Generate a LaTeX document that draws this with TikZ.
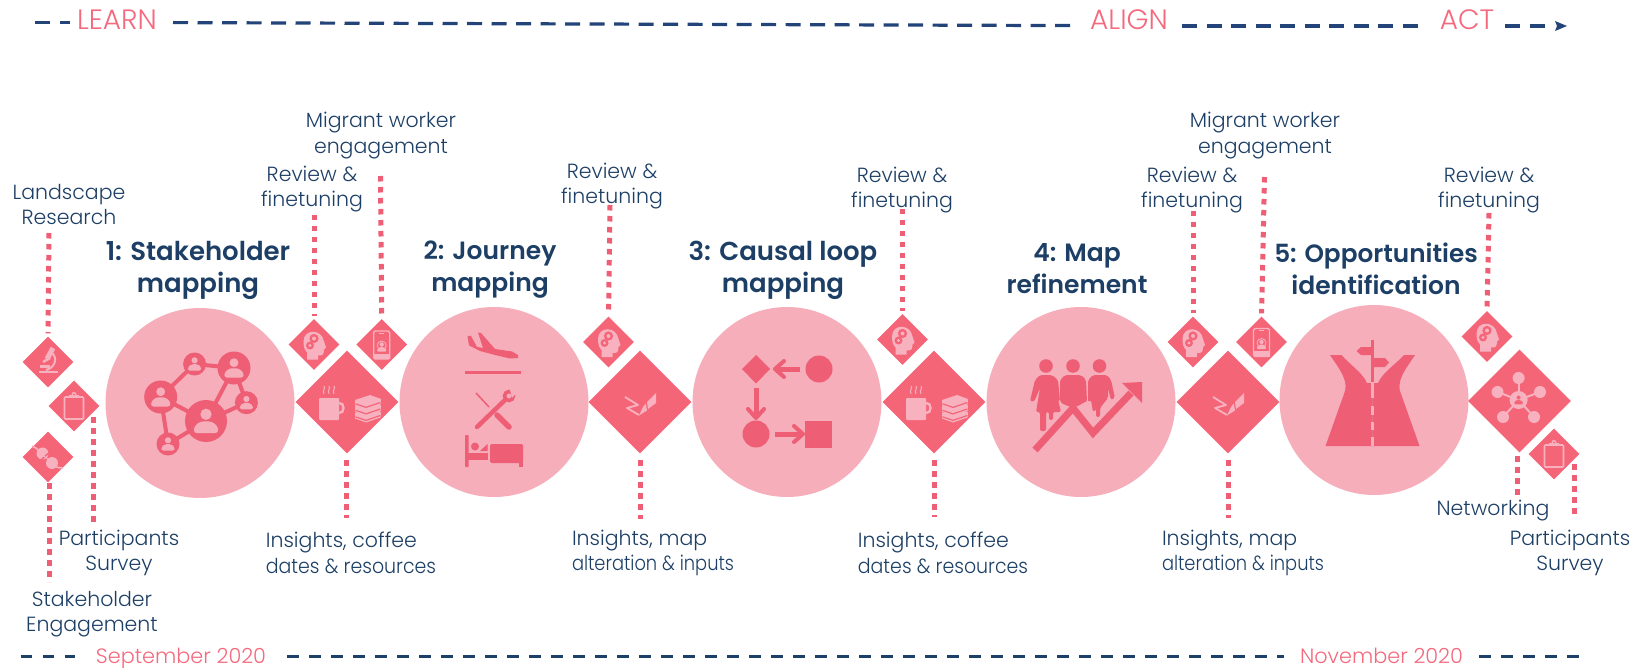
\documentclass[tikz,border=0pt]{standalone}
\usepackage{fontspec}
\usepackage{graphicx}
\setmainfont{Poppins}[UprightFont=* Light,BoldFont=* SemiBold]
\usetikzlibrary{shapes.geometric,arrows.meta}
\definecolor{circ}{HTML}{F6AEBB}
\definecolor{dk}{HTML}{EE5E75}
\definecolor{dia}{HTML}{F46578}
\definecolor{lt}{HTML}{F8B2BF}
\definecolor{navy}{HTML}{1D3F66}
\definecolor{arrowblue}{HTML}{224478}
\definecolor{botblue}{HTML}{1D4068}
\definecolor{pinktxt}{HTML}{F4697D}
\newcommand{\sqz}[2]{\scalebox{#1}[1]{#2}}
\tikzset{
  bigcircle/.style={ellipse,fill=circ,minimum width=189pt,minimum height=190pt,inner sep=0pt},
  bigdia/.style={diamond,aspect=1,fill=dia,minimum width=103pt,minimum height=103pt,inner sep=0pt},
  smalldia/.style={diamond,aspect=1,fill=dia,minimum width=51pt,minimum height=51pt,inner sep=0pt},
  dots/.style={draw=dk,line width=5pt,dash pattern=on 5.5pt off 5.5pt,shorten >=3pt},
  lab/.style={font=\fontsize{20.5}{25.5}\selectfont,text=navy,align=center,inner sep=0pt},
  lableft/.style={lab,align=left},
  ttl/.style={font=\fontsize{25}{32}\selectfont\bfseries,text=navy,align=center,inner sep=0pt},
  phase/.style={font=\fontsize{28}{32}\selectfont,text=pinktxt,inner sep=0pt,anchor=base},
  date/.style={font=\fontsize{20.8}{24}\selectfont,text=pinktxt,inner sep=0pt,anchor=base},
  timeline/.style={draw=arrowblue,line width=3.2pt,dash pattern=on 15pt off 9.5pt},
  botline/.style={draw=botblue,line width=3pt,dash pattern=on 11.5pt off 10.5pt},
}
\newcommand{\persn}[4]{% x y r colour
  \fill[#4] (#1,#2-.32*#3) circle ({.27*#3});
  \fill[#4,rounded corners=.15*#3] (#1-.58*#3,#2+.58*#3) -- (#1-.58*#3,#2+.28*#3) -- (#1-.28*#3,#2+.02*#3) -- (#1+.28*#3,#2+.02*#3) -- (#1+.58*#3,#2+.28*#3) -- (#1+.58*#3,#2+.58*#3) -- cycle;
}
\newcommand{\brainicon}[1]{\begin{scope}[shift={(#1)}]
  \fill[lt] (-10.5,-3) .. controls (-10.5,-16) and (8,-16) .. (10,-3) -- (12,3) -- (10,5) .. controls (10,11) and (8,11) .. (4,11) -- (4,15) -- (-7,15) -- (-7,8) .. controls (-10,5) and (-10.5,1) .. (-10.5,-3) -- cycle;
  \fill[dia] (0,-6) circle (4.6); \fill[lt] (0,-6) circle (2);
  \fill[dia] (-4,1) circle (4); \fill[lt] (-4,1) circle (1.7);
\end{scope}}
\newcommand{\phoneicon}[1]{\begin{scope}[shift={(#1)}]
  \draw[lt,line width=1.4pt,rounded corners=1.5pt] (-8,-13.5) rectangle (8,14.5);
  \fill[lt] (-2.5,-11.8) rectangle (2.5,-10.8);
  \draw[lt,line width=.8pt] (0,1) circle (4.5);
  \persn{0}{2.5}{8}{lt}
  \fill[lt] (-8,9) rectangle (8,14.5);
\end{scope}}
\newcommand{\clipicon}[1]{\begin{scope}[shift={(#1)}]
  \draw[lt,line width=1.6pt,rounded corners=1pt] (-9.5,-9) rectangle (9.5,13);
  \fill[lt] (-5,-8) rectangle (5,-11) ; \fill[lt] (0,-11.5) circle (2.5); \fill[dia] (0,-11.5) circle (1);
\end{scope}}
\newcommand{\mugbooks}[1]{\begin{scope}[shift={(#1)}]
  \fill[lt,rounded corners=1pt] (-28,-4) rectangle (-8,18);
  \draw[lt,line width=2.4pt] (-8,1) .. controls (-2,0) and (-2,12) .. (-8,11);
  \foreach \sx in {-23,-18,-13}{\draw[lt,line width=1pt] (\sx,-16) .. controls (\sx+2,-14) and (\sx-2,-12) .. (\sx,-8);}
  \foreach \sy in {13,6.5,0}{
    \fill[lt,line join=round] (8,-2+\sy) -- (23,-7+\sy) -- (34,-3+\sy) -- (33.5,2.5+\sy) -- (19,7.5+\sy) -- (8,3.5+\sy) -- cycle;
    \draw[dia,line width=1.2pt] (33,.6+\sy) -- (19,5.4+\sy) -- (8.5,1.8+\sy);}
\end{scope}}
\newcommand{\brushicon}[1]{\begin{scope}[shift={(#1)}]
  \draw[lt,line width=1.8pt,line join=round] (-15,-5) -- (-2,3) -- (-13,6) -- (-1,13);
  \fill[lt] (7,0) -- (16,-9) -- (16,1) -- (8,7) -- cycle;
  \fill[lt] (-1,13.5) -- (3,5) -- (5.8,1.5) -- (7,8.5) -- cycle;
\end{scope}}
\begin{document}
\begin{tikzpicture}[x=1pt,y=-1pt]
\useasboundingbox (0,0) rectangle (1636,668);
% timeline top
\node[phase] (learn) at (117,30) {LEARN};
\node[phase] (align) at (1129,30) {ALIGN};
\node[phase] (act) at (1467,30) {ACT};
\coordinate (t0) at (35,22.3);
\coordinate (t1) at (70,22.3);
\coordinate (t2) at (173,22.6);
\coordinate (t3) at (1072,25.6);
\coordinate (t4) at (1182,26);
\coordinate (t5) at (1418,26);
\coordinate (t6) at (1505,26);
\coordinate (t7) at (1545,26);
\draw[timeline,dash pattern=on 15pt off 10pt] (t0) -- (t1);
\draw[timeline] (t2) -- (t3);
\draw[timeline] (t4) -- (t5);
\draw[timeline] (t6) -- (t7);
\fill[arrowblue] (1567,26) -- (1555,31) -- (1557,26) -- (1555,21) -- cycle;
% timeline bottom
\node[date] (sep) at (181,663) {September 2020};
\node[date] (nov) at (1381.5,663) {November 2020};
\coordinate (b0) at (20.7,656.7);
\coordinate (b1) at (75,656.7);
\coordinate (b2) at (287,656.7);
\coordinate (b3) at (1284,656.7);
\coordinate (b4) at (1479,656.7);
\coordinate (b5) at (1586,656.7);
\draw[botline] (b0) -- (b1);
\draw[botline] (b2) -- (b3);
\draw[botline] (b4) -- (b5);
% big circles
\node[bigcircle] (c1) at (200,403) {};
\node[bigcircle] (c2) at (494,402) {};
\node[bigcircle] (c3) at (787,402) {};
\node[bigcircle] (c4) at (1081,402) {};
\node[bigcircle] (c5) at (1374,400) {};
% big diamonds
\node[bigdia] (d1) at (347,402) {};
\node[bigdia] (d2) at (640,402) {};
\node[bigdia] (d3) at (934,402) {};
\node[bigdia] (d4) at (1228,402) {};
\node[bigdia] (d5) at (1519.5,401) {};
% small diamonds
\node[smalldia] (micro) at (48,362) {};
\node[smalldia] (clipa) at (74,406) {};
\node[smalldia] (plug) at (48,457) {};
\node[smalldia] (br1) at (314,344.5) {};
\node[smalldia] (ph1) at (381.7,344.5) {};
\node[smalldia] (br2) at (608.5,342) {};
\node[smalldia] (br3) at (902.5,339.5) {};
\node[smalldia] (br4) at (1193,342) {};
\node[smalldia] (ph2) at (1261.5,342) {};
\node[smalldia] (br5) at (1487,336.5) {};
\node[smalldia] (clipb) at (1554,454) {};
% connector free ends
\coordinate (e1) at (49,233);
\coordinate (e2) at (93.5,417);
\coordinate (e3) at (49,483);
\coordinate (e4) at (314,215);
\coordinate (e5) at (380.5,176);
\coordinate (e6) at (346.5,460);
\coordinate (e7) at (610,205);
\coordinate (e8) at (640,460);
\coordinate (e9) at (902.5,209);
\coordinate (e10) at (934,460);
\coordinate (e11) at (1193,211);
\coordinate (e12) at (1264.5,177);
\coordinate (e13) at (1228,460);
\coordinate (e14) at (1489,213);
\coordinate (e15) at (1517,456);
\coordinate (e16) at (1574,464);
\coordinate (f2) at (93.5,522);
\coordinate (f3) at (49,582);
\coordinate (f6) at (346.5,518);
\coordinate (f8) at (640,519);
\coordinate (f10) at (934,517);
\coordinate (f13) at (1228,518);
\coordinate (f15) at (1517,498);
\coordinate (f16) at (1574,518);
% connectors
\draw[dots] (e1) -- (micro.north);
\draw[dots] (e4) -- (br1.north);
\draw[dots] (e5) -- (ph1.north);
\draw[dots] (e7) -- (br2.north);
\draw[dots] (e9) -- (br3.north);
\draw[dots] (e11) -- (br4.north);
\draw[dots] (e12) -- (ph2.north);
\draw[dots] (e14) -- (br5.north);
\draw[dots,shorten >=0pt] (e2) -- (f2);
\draw[dots,shorten >=0pt] (e3) -- (f3);
\draw[dots,shorten >=0pt] (e6) -- (f6);
\draw[dots,shorten >=0pt] (e8) -- (f8);
\draw[dots,shorten >=0pt] (e10) -- (f10);
\draw[dots,shorten >=0pt] (e13) -- (f13);
\draw[dots,shorten >=0pt] (e15) -- (f15);
\draw[dots,shorten >=0pt] (e16) -- (f16);
% labels
\node[lab] (l1) at (69,204.5) {Landscape\\Research};
\node[lab] (l2) at (381,135.5) {Migrant worker\\engagement};
\node[lab] (l3) at (312,189) {Review \&\\finetuning};
\node[lab] (l4) at (612,186) {Review \&\\finetuning};
\node[lab] (l5) at (902,190) {Review \&\\finetuning};
\node[lab] (l6) at (1192,190) {Review \&\\finetuning};
\node[lab] (l7) at (1265,135.5) {Migrant worker\\engagement};
\node[lab] (l8) at (1489,190) {Review \&\\finetuning};
\node[lab] (l9) at (119,553) {Participants\\Survey};
\node[lab] (l10) at (92,614) {Stakeholder\\Engagement};
\node[lableft] (l11) at (351,553) {Insights, coffee\\\sqz{.925}{dates \& resources}};
\node[lableft] (l12) at (653,553) {Insights, map\\\sqz{.87}{alteration \& inputs}};
\node[lableft] (l13) at (943,553) {Insights, coffee\\\sqz{.925}{dates \& resources}};
\node[lableft] (l14) at (1243,553) {Insights, map\\\sqz{.87}{alteration \& inputs}};
\node[lab] (l15) at (1493,511) {Networking};
\node[lab] (l16) at (1570,553) {Participants\\Survey};
% titles
\node[ttl,font=\fontsize{26}{32}\selectfont\bfseries] (t1n) at (198,270) {1: Stakeholder\\mapping};
\node[ttl] (t2n) at (490,270) {2: Journey\\mapping};
\node[ttl,font=\fontsize{26}{32}\selectfont\bfseries] (t3n) at (783,270) {3: Causal loop\\mapping};
\node[ttl] (t4n) at (1077,268.5) {4: Map\\refinement};
\node[ttl] (t5n) at (1376,268.5) {\sqz{.99}{5: Opportunities}\\identification};
% ICON network c1
\draw[dk,line width=4pt] (194.6,364) -- (234,368) -- (206,421) -- (160.7,397) -- cycle (234,368) -- (246.4,402.7) -- (206,421) -- (168,444) -- (160.7,397);
\foreach \x/\y/\r in {194.6/364/11.5,234/368/16.5,160.7/397/16.5,206/421/21,246.4/402.7/11.5,168/444/11.5}{
  \fill[dk] (\x,\y) circle (\r);
  \persn{\x}{\y}{\r}{circ}
}
% ICON c2
\fill[dk] (467.5,336) -- (471,336) -- (477,347) -- (483,348) -- (478,332.5) -- (481,333) -- (495,349) -- (512,351.5) -- (518,355) -- (518,358) -- (510,358.5) -- (495,355) -- (480,351) -- (469,345.5) -- cycle;
\fill[dk] (465,370.5) rectangle (521,373.5);
\draw[dk,line width=4.5pt,line cap=round] (477,427) -- (505,400);
\draw[dk,line width=3.5pt] (509,396) circle (4.5);
\fill[circ] (510,390) -- (518,391) -- (512,398) -- cycle;
\draw[dk,line width=1.5pt] (476,393) -- (489,407);
\draw[dk,line width=5.5pt,line cap=round] (497,415) -- (509,427);
\fill[dk,rounded corners=.8pt] (465,435) rectangle (468.6,467);
\fill[dk] (468,453) rectangle (488,460);
\fill[dk] (475,446.5) circle (4);
\fill[dk] (480,451) -- (487.5,444) -- (487.5,451) -- cycle;
\fill[dk,rounded corners=1.5pt] (490,444) rectangle (523,463);
\fill[dk] (519,460) rectangle (523,467);
% ICON c3
\fill[dk] (756,355) -- (770,369) -- (756,383.5) -- (742,369) -- cycle;
\fill[dk] (819,369) circle (13.5);
\draw[dk,line width=5pt] (800,369) -- (777,369);
\draw[dk,line width=4pt,line cap=round,line join=round] (784,361) -- (775,369) -- (784,377);
\draw[dk,line width=5pt] (756,388) -- (756,416);
\draw[dk,line width=4pt,line cap=round,line join=round] (748,409) -- (756,418) -- (764,409);
\fill[dk] (756,434) circle (13.5);
\draw[dk,line width=5pt] (775,434) -- (801,434);
\draw[dk,line width=4pt,line cap=round,line join=round] (794,426) -- (803,434) -- (794,442);
\fill[dk] (805,421) rectangle (832,448);
% ICON c4
\foreach \hx in {1046,1073,1099.5}{\fill[dk] (\hx,366) circle (6.8);}
\fill[dk,rounded corners=2pt] (1030,401) -- (1035,380) -- (1040,375) -- (1052,375) -- (1058,380) -- (1060,401) -- (1057,402) -- (1055,388) -- (1061,412) -- (1053,412) -- (1053,420) -- (1049,420) -- (1049,412) -- (1046,412) -- (1046,431) -- (1040,431) -- (1040,412) -- (1036,412) -- (1040,388) -- (1034,402) -- cycle;
\fill[dk,rounded corners=2pt] (1060,380) -- (1065,375) -- (1081,375) -- (1086,380) -- (1087,402) -- (1083,402) -- (1082,404) -- (1073,408) -- (1063,404) -- (1060,402) -- cycle;
\fill[dk,rounded corners=2pt] (1088,380) -- (1093,375) -- (1107,375) -- (1111,380) -- (1115,398) -- (1111,400) -- (1108,388) -- (1108,398) -- (1100,408) -- (1100,417) -- (1096,417) -- (1096,409) -- (1093,412) -- (1091,400) -- (1088,402) -- cycle;
\draw[dk,line width=7pt] (1035,450) -- (1073,408) -- (1093,433) -- (1131,393);
\fill[dk] (1142,382) -- (1122,383) -- (1142,403) -- cycle;
% ICON c5
\fill[dk] (1330,355) -- (1341.5,355) .. controls (1350,365) and (1362,372) .. (1367,383) -- (1372.5,383) -- (1372.5,446) -- (1325.5,446) -- (1343.6,395) .. controls (1350,382) and (1340,370) .. (1330,355) -- cycle;
\fill[dk] (1415,355) -- (1404,355) .. controls (1395,365) and (1383,372) .. (1378,383) -- (1372.5,383) -- (1372.5,446) -- (1419.5,446) -- (1401.4,395) .. controls (1395,382) and (1405,370) .. (1415,355) -- cycle;
\foreach \ya/\yb in {380/398,406/415,422/430,437/446}{\fill[circ] (1370.7,\ya) rectangle (1374.3,\yb);}
\fill[dk] (1371,340) rectangle (1373.8,382);
\fill[dk] (1356.5,351) -- (1361,347) -- (1372,347) -- (1372,355) -- (1361,355) -- cycle;
\fill[dk] (1389,362.5) -- (1385,358) -- (1373,358) -- (1373,367) -- (1385,367) -- cycle;
% ICONS in diamonds
\mugbooks{d1}
\mugbooks{d3}
\brushicon{d2}
\brushicon{d4}
\foreach \n in {br1,br2,br3,br4,br5}{\brainicon{\n}}
\phoneicon{ph1}
\phoneicon{ph2}
\clipicon{clipa}
\clipicon{clipb}
% microscope
\draw[lt,line width=5pt] (53,348) -- (47,359);
\fill[lt] (39,371) rectangle (58,373);
\draw[lt,line width=2pt] (52,353) .. controls (58,358) and (55,368) .. (46,370);
\fill[lt] (40,365) rectangle (50,367.5);
\draw[lt,line width=2.5pt] (43,362) -- (50,358);
% plug
\draw[lt,line width=1.6pt] (32,446) .. controls (35,446.5) and (37,449) .. (40,452);
\draw[lt,line width=1.6pt] (54,465) .. controls (57,468) and (60,468) .. (63,468);
\fill[lt] (42.5,453.5) circle (6);
\fill[lt] (52,463) circle (6);
\draw[dia,line width=1.4pt] (40,461) -- (54,448);
\draw[lt,line width=1pt] (44,456) -- (49,460);
% hub icon d5
\foreach \hx/\hy in {1518.6/378,1497.5/392,1540/392,1503/417,1534/417}{
  \draw[lt,line width=2pt] (1518.6,400) -- (\hx,\hy);
  \fill[lt] (\hx,\hy) circle (6);
}
\fill[lt] (1518.6,400) circle (9);
\persn{1518.6}{400}{7.5}{dia}
\end{tikzpicture}
\end{document}
